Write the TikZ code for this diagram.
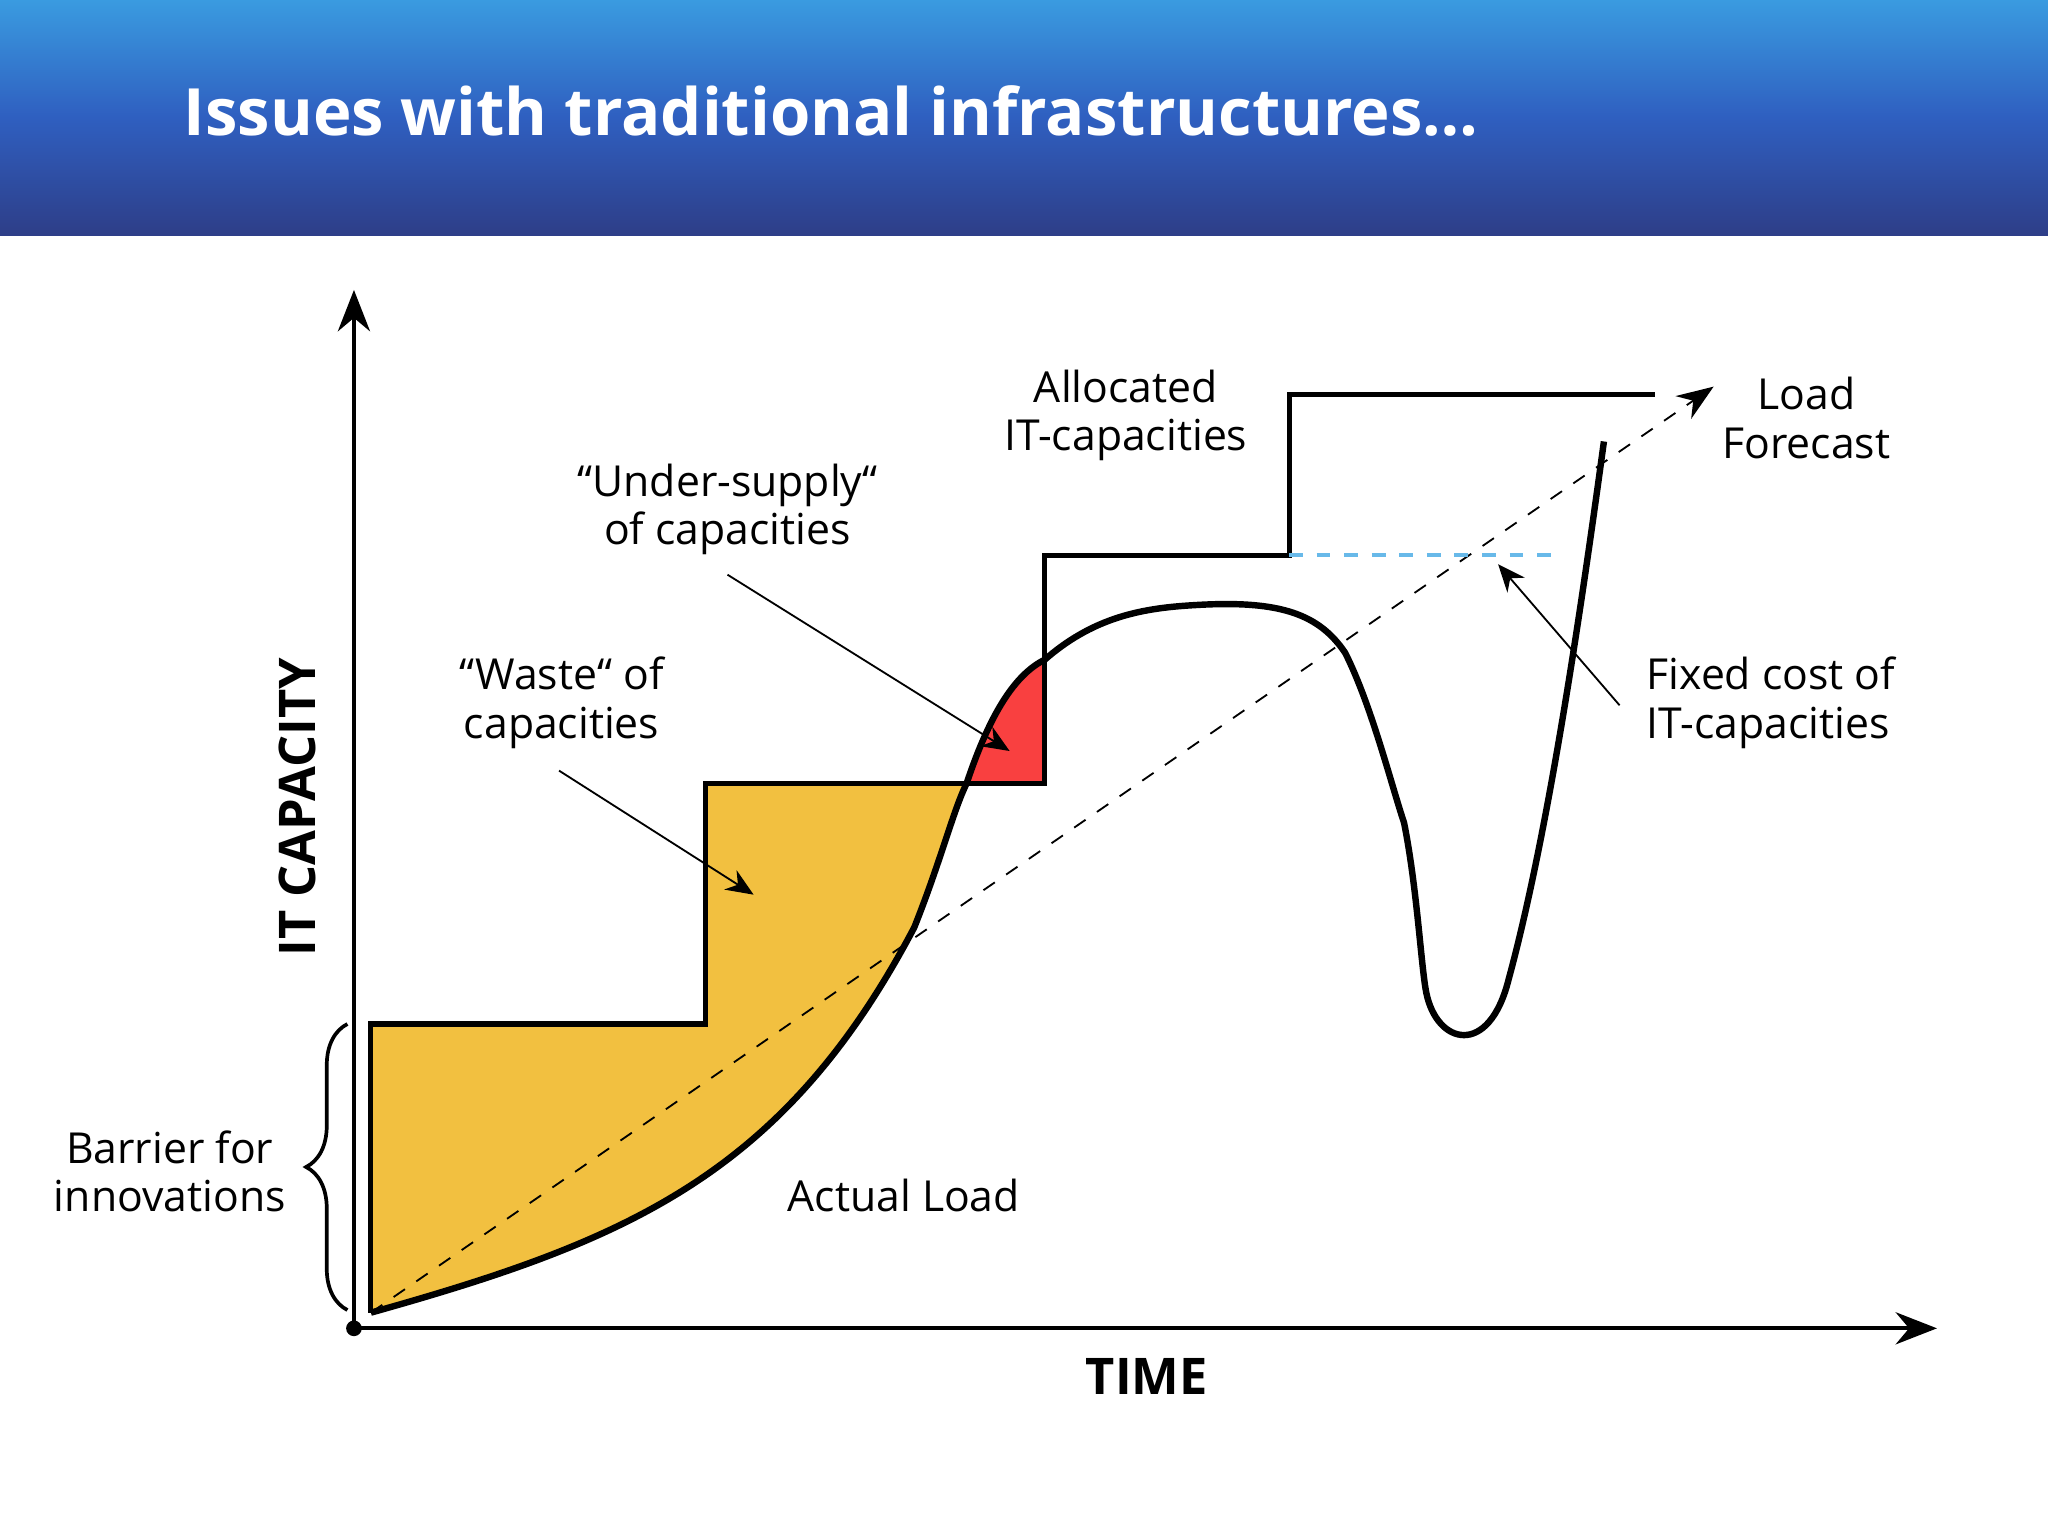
\documentclass[tikz,border=0pt]{standalone}
\usepackage{fontspec}
\setmainfont{Open Sans}
\usetikzlibrary{arrows.meta,decorations.pathreplacing}
\definecolor{hdtop}{HTML}{3A9BE0}
\definecolor{hdmid}{HTML}{2F5FC0}
\definecolor{hdbot}{HTML}{2E3E88}
\definecolor{waste}{HTML}{F2C040}
\definecolor{under}{HTML}{F94040}
\begin{document}
\begin{tikzpicture}[x=0.01cm,y=-0.01cm,
  lbl/.style={font=\fontsize{9.3}{10.5}\selectfont,align=center,inner sep=0},
  pt/.style={-{Stealth[length=6pt,width=5pt]},thin},
  ln/.style={line width=1.1pt}]
\useasboundingbox (0,0) rectangle (1568,1176);
\fill[white] (0,0) rectangle (1568,1176);
\shade[top color=hdtop, bottom color=hdbot, middle color=hdmid] (0,0) rectangle (1568,180);
\node[anchor=west,text=white,font=\fontsize{14.2}{17}\selectfont\bfseries,inner sep=0] (title) at (140,85) {Issues with traditional infrastructures…};
% fills
\fill[waste] (284,1005) .. controls (480,950) and (600,900) .. (700,710)
  .. controls (720,660) and (730,620) .. (740,600) -- (540,600) -- (540,784) -- (284,784) -- cycle;
\fill[under] (740,600) .. controls (760,540) and (780,515) .. (800,505) -- (800,600) -- cycle;
% axes
\coordinate (o) at (271,1017);
\coordinate (ytop) at (271,222);
\coordinate (xend) at (1483,1017);
\draw[-{Stealth[length=9pt,width=7pt]},thick] (o) -- (ytop);
\draw[-{Stealth[length=9pt,width=7pt]},thick] (o) -- (xend);
\fill (o) circle (6);
% steps
\draw[ln] (284,1005) -- (284,784) -- (540,784) -- (540,600) -- (800,600) -- (800,425) -- (987,425) -- (987,302) -- (1267,302);
% load
\draw[line width=1.4pt] (284,1005) .. controls (480,950) and (600,900) .. (700,710)
  .. controls (720,660) and (730,620) .. (740,600)
  .. controls (760,540) and (780,515) .. (800,505)
  .. controls (840,470) and (880,465) .. (920,463)
  .. controls (980,460) and (1010,470) .. (1030,500)
  .. controls (1050,540) and (1065,600) .. (1075,630)
  .. controls (1085,680) and (1088,740) .. (1092,760)
  .. controls (1100,800) and (1140,810) .. (1155,750)
  .. controls (1185,640) and (1210,470) .. (1228,338);
% forecast
\coordinate (fs) at (284,1005); \coordinate (fe) at (1312,296);
\draw[dashed,-{Stealth[length=8pt,width=6pt]}] (fs) -- (fe);
\draw[dashed,cyan!80!blue!60!white,thick] (987,425) -- (1190,425);
% labels
\node[lbl] (alloc) at (862,318) {Allocated\\IT-capacities};
\node[lbl] (fore) at (1383,320) {Load\\Forecast};
\node[lbl] (under) at (557,390) {“Under-supply“\\of capacities};
\node[lbl] (waste) at (430,538) {“Waste“ of\\capacities};
\node[lbl,anchor=west,align=left] (fixed) at (1260,538) {Fixed cost of\\IT-capacities};
\node[lbl] (barrier) at (130,897) {Barrier for\\innovations};
\node[lbl] (actual) at (692,915) {Actual Load};
\node[lbl,font=\fontsize{11}{12}\selectfont\bfseries] (time) at (878,1054) {TIME};
\node[lbl,font=\fontsize{11}{12}\selectfont\bfseries,rotate=90] (itc) at (228,618) {IT CAPACITY};
% pointers
\coordinate (u1) at (557,440); \coordinate (u2) at (773,575);
\coordinate (w1) at (428,590); \coordinate (w2) at (577,685);
\coordinate (f1) at (1240,540); \coordinate (f2) at (1147,432);
\draw[pt] (u1) -- (u2);
\draw[pt] (w1) -- (w2);
\draw[pt] (f1) -- (f2);
% brace
\draw[thick,decorate,decoration={brace,amplitude=9pt}] (266,1003) -- (266,784);
\end{tikzpicture}
\end{document}
